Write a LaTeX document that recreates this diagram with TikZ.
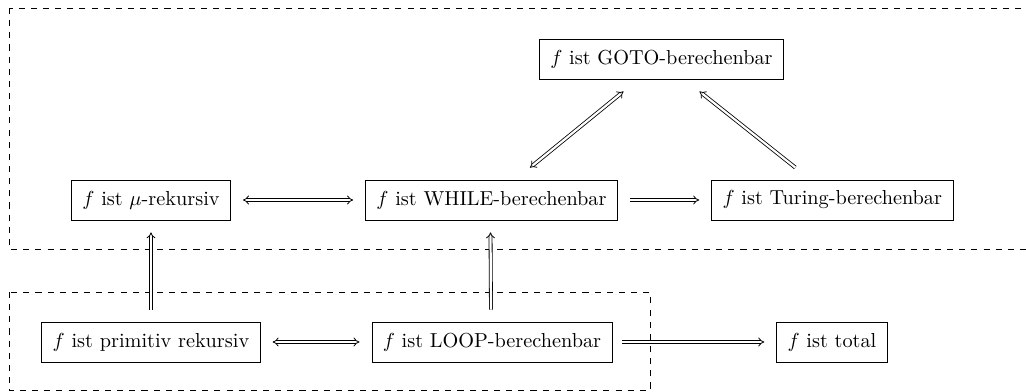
\documentclass[tikz,border=0pt]{standalone}
\usetikzlibrary{arrows.meta,calc}
\begin{document}
\begin{tikzpicture}[x=0.4936pt,y=-0.4936pt,
  box/.style={draw, line width=0.4pt, inner sep=5.4pt},
  imp/.style={double, double distance=1.1pt, line width=0.4pt, -{Implies}},
  impb/.style={double, double distance=1.1pt, line width=0.4pt, {Implies}-{Implies}},
  region/.style={draw, dashed, line width=0.4pt}]
\useasboundingbox (0,0) rectangle (1026,392);
\draw[region] (9,8) rectangle (1040,249);
\draw[region] (9,292) rectangle (650,390.5);
\node[box] (goto) at (661.5,59) {$f$ ist GOTO-berechenbar};
\node[box] (mu) at (151,200) {$f$ ist $\mu$-rekursiv};
\node[box] (while) at (491.5,200) {$f$ ist WHILE-berechenbar};
\node[box] (turing) at (832.3,200) {$f$ ist Turing-berechenbar};
\node[box] (prim) at (151,342) {$f$ ist primitiv rekursiv};
\node[box] (loop) at (492,342) {$f$ ist LOOP-berechenbar};
\node[box] (total) at (832,342) {$f$ ist total};
\draw[impb] ($(mu.east)+(12,0)$) -- ($(while.west)+(-12,0)$);
\draw[imp] ($(while.east)+(12,0)$) -- ($(turing.west)+(-12,0)$);
\draw[impb] ($(prim.east)+(12,0)$) -- ($(loop.west)+(-12,0)$);
\draw[imp] ($(loop.east)+(10,0)$) -- ($(total.west)+(-12,0)$);
\draw[imp] ($(prim.north)+(0,-12)$) -- ($(mu.south)+(0,12)$);
\draw[imp] ($(loop.north)+(-1,-12)$) -- ($(while.south)+(-1,12)$);
\draw[impb] ($(while.north)+(38.5,-12)$) -- ($(goto.south)+(-38,12)$);
\draw[imp] ($(turing.north)+(-37,-12)$) -- ($(goto.south)+(38,12)$);
\end{tikzpicture}
\end{document}
